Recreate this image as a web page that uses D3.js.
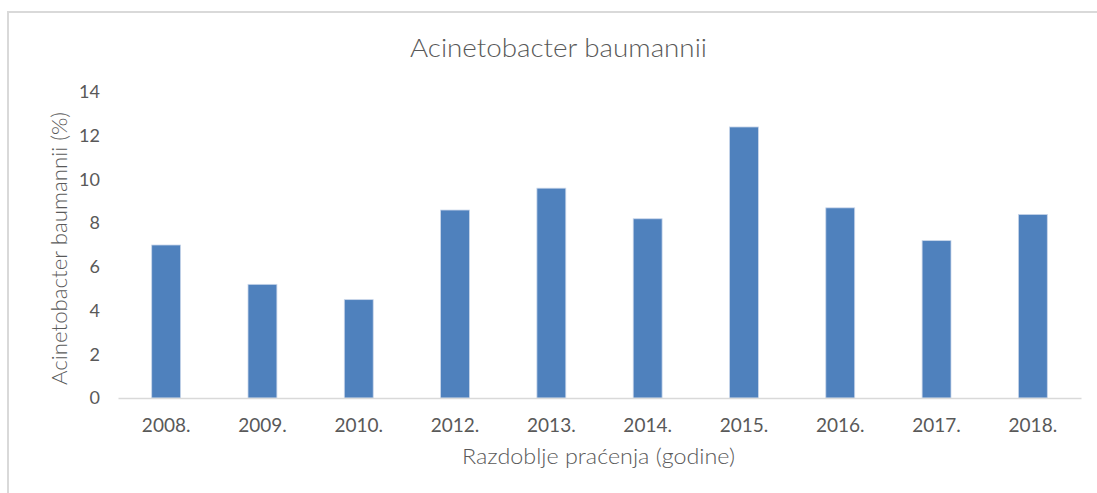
<!DOCTYPE html>
<html><head><meta charset="utf-8">
<script src="https://cdn.jsdelivr.net/npm/d3@7"></script>
<style>
body{margin:0;background:#fff;}
svg{display:block;}
text{font-family:Lato,"Open Sans",sans-serif;}
</style></head>
<body>
<svg id="c" width="1097" height="493"></svg>
<script>
const categories = ["2008.","2009.","2010.","2012.","2013.","2014.","2015.","2016.","2017.","2018."];
const values = [7.0,5.2,4.5,8.6,9.6,8.2,12.4,8.7,7.2,8.4];
const yTicks = [0,2,4,6,8,10,12,14];
const title = "Acinetobacter baumannii";
const xTitle = "Razdoblje praćenja (godine)";
const yTitle = "Acinetobacter baumannii (%)";

const svg = d3.select("#c");
// chart border
svg.append("path").attr("d","M8,494 L8,12 L1098,12").attr("fill","none").attr("stroke","#d9d9d9").attr("stroke-width",2);

const pLeft=118, pRight=1081, pTop=92, pBottom=398;
const x = d3.scaleBand().domain(categories).range([pLeft,pRight]).padding(0);
const y = d3.scaleLinear().domain([0,14]).range([pBottom,pTop]);
const bw = x.bandwidth()*0.3;

svg.append("g").selectAll("rect").data(values).join("rect")
  .attr("x",(d,i)=>x(categories[i])+x.bandwidth()/2-bw/2)
  .attr("y",d=>y(d))
  .attr("width",bw)
  .attr("height",d=>pBottom-y(d))
  .attr("fill","#4f81bd")
  .attr("stroke","#c9d6ea").attr("stroke-width",0.8);

// x axis
const xa = svg.append("g").attr("transform",`translate(0,${pBottom})`)
  .call(d3.axisBottom(x).tickSize(0));
xa.select(".domain").attr("stroke","#d9d9d9").attr("stroke-width",1.5);
xa.selectAll("text").attr("y",34).attr("dy",0).attr("font-size",19).attr("fill","#595959").attr("font-family","Lato,'Open Sans',sans-serif");

// y axis
const ya = svg.append("g").attr("transform",`translate(${pLeft},0)`)
  .call(d3.axisLeft(y).tickValues(yTicks).tickSize(0).tickPadding(18));
ya.select(".domain").remove();
ya.selectAll("text").attr("font-size",18).attr("fill","#595959").attr("font-family","Lato,'Open Sans',sans-serif");

svg.append("text").attr("x",558.5).attr("y",57).attr("text-anchor","middle")
  .attr("font-size",26).attr("font-weight",300).attr("fill","#595959")
  .attr("textLength",297).attr("lengthAdjust","spacingAndGlyphs").text(title);
svg.append("text").attr("x",598.5).attr("y",464).attr("text-anchor","middle")
  .attr("font-size",22).attr("font-weight",300).attr("fill","#595959")
  .attr("textLength",273).attr("lengthAdjust","spacingAndGlyphs").text(xTitle);
svg.append("text").attr("transform","translate(67,248.5) rotate(-90)").attr("text-anchor","middle")
  .attr("font-size",22).attr("font-weight",300).attr("fill","#595959")
  .attr("textLength",273).attr("lengthAdjust","spacingAndGlyphs").text(yTitle);
</script>
</body></html>
